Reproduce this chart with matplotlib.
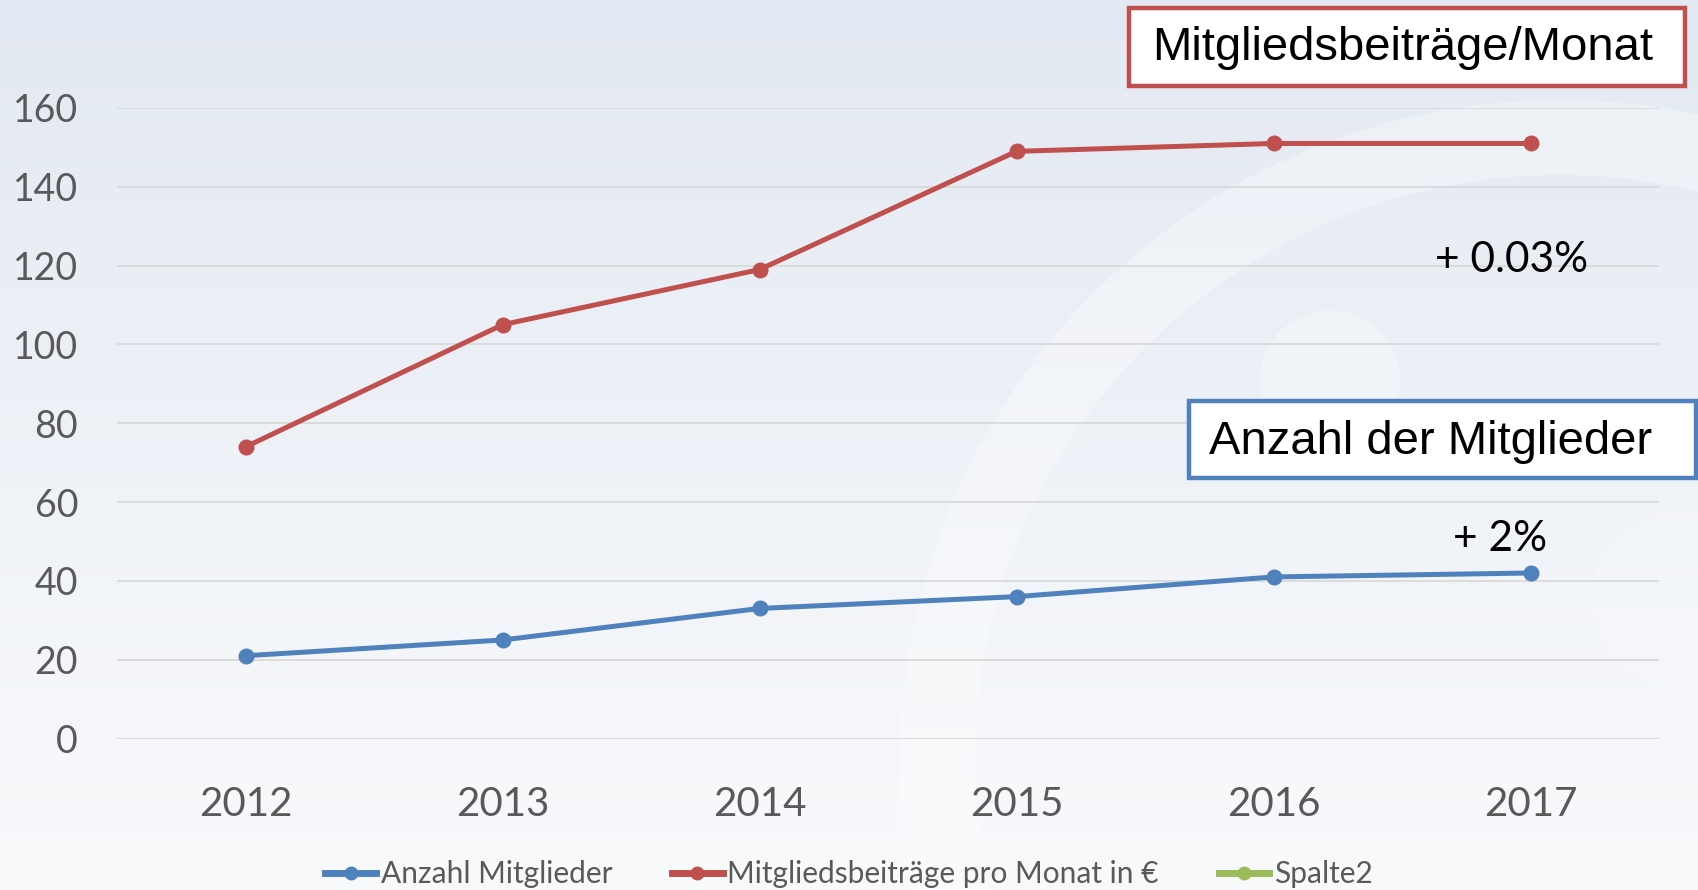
import numpy as np
import matplotlib
matplotlib.use("Agg")
import matplotlib.pyplot as plt
from matplotlib.patches import Rectangle, Wedge, Circle

years = ["2012", "2013", "2014", "2015", "2016", "2017"]
mitglieder = [21, 25, 33, 36, 41, 42]
beitraege = [74, 105, 119, 149, 151, 151]
spalte2 = [np.nan] * 6
yticks = [0, 20, 40, 60, 80, 100, 120, 140, 160]

BLUE = "#4F81BD"
RED = "#C0504D"
GREEN = "#9BBB59"
GREY = "#595959"

plt.rcParams["font.family"] = ["Lato", "DejaVu Sans"]

W, H = 1698, 890
fig = plt.figure(figsize=(W / 100, H / 100), dpi=100)

# background gradient + faint watermark ring
bg = fig.add_axes([0, 0, 1, 1], zorder=-10)
grad = np.linspace(0, 1, 256).reshape(-1, 1)
cmap = matplotlib.colors.LinearSegmentedColormap.from_list("bg", ["#E3E9F2", "#F9FAFC"])
bg.imshow(grad, aspect="auto", cmap=cmap, extent=[0, W, H, 0])
bg.add_patch(Wedge((1560, 760), 660, 0, 360, width=75, color="white", alpha=0.3, lw=0))
bg.add_patch(Circle((1330, 380), 70, color="white", alpha=0.25, lw=0))
bg.add_patch(Circle((1680, 600), 90, color="white", alpha=0.2, lw=0))
bg.set_xlim(0, W)
bg.set_ylim(H, 0)
bg.axis("off")

ax = fig.add_axes([117 / W, 1 - 738.5 / H, (1659 - 117) / W, (738.5 - 108) / H])
ax.set_facecolor("none")
x = np.arange(len(years))

ax.plot(x, mitglieder, color=BLUE, lw=3.6, marker="o", ms=10.5, label="Anzahl Mitglieder", zorder=3)
ax.plot(x, beitraege, color=RED, lw=3.6, marker="o", ms=10.5, label="Mitgliedsbeiträge pro Monat in €", zorder=3)
ax.plot(x, spalte2, color=GREEN, lw=3.6, marker="o", ms=10.5, label="Spalte2", zorder=3)

ax.set_xlim(-0.5, len(years) - 0.5)
ax.set_ylim(0, 160)
ax.set_yticks(yticks)
ax.set_xticks(x)
ax.set_xticklabels(years)
ax.grid(axis="y", color="#D9D9D9", lw=1.3)
ax.set_axisbelow(True)
for s in ax.spines.values():
    s.set_visible(False)
ax.tick_params(axis="y", length=0, pad=28, labelsize=27, labelcolor=GREY)
ax.tick_params(axis="x", length=0, pad=34, labelsize=29, labelcolor=GREY)

leg = fig.legend(loc="lower center", bbox_to_anchor=(0.5, -0.028), ncol=3, frameon=False,
                 fontsize=21.5, handlelength=1.7, handletextpad=0.15, columnspacing=2.0,
                 labelcolor=GREY)
for h in leg.legend_handles:
    h.set_linewidth(5)
    h.set_markersize(9)

# annotation boxes
def box(x0, y0, x1, y1, color):
    fig.add_artist(Rectangle((x0 / W, 1 - y1 / H), (x1 - x0) / W, (y1 - y0) / H,
                             transform=fig.transFigure, facecolor="white",
                             edgecolor=color, lw=3.2, zorder=5))

box(1129, 8, 1685, 86, RED)
fig.text(1403 / W, 1 - 48 / H, "Mitgliedsbeiträge/Monat", family="Liberation Sans",
         fontsize=34, ha="center", va="center", zorder=6)
box(1189, 401, 1696, 478, BLUE)
fig.text(1209 / W, 1 - 442 / H, "Anzahl der Mitglieder", family="Liberation Sans",
         fontsize=34, ha="left", va="center", zorder=6)

fig.text(1512 / W, 1 - 260 / H, "+ 0.03%", fontsize=30.5, ha="center", va="center")
fig.text(1500 / W, 1 - 539 / H, "+ 2%", fontsize=30.5, ha="center", va="center")

fig.savefig("out.png", dpi=100)
